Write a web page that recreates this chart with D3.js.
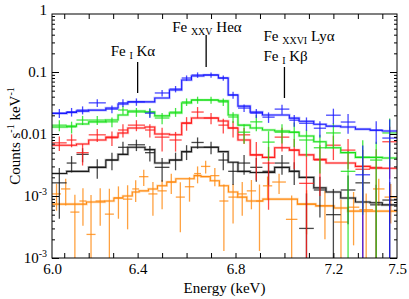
<!DOCTYPE html>
<html>
<head>
<meta charset="utf-8">
<script src="https://cdn.jsdelivr.net/npm/d3@7"></script>
<style>
body { margin: 0; background: #fff; }
svg text { font-family: "Times New Roman", Times, "Liberation Serif", "DejaVu Serif", serif; fill: #000; }
</style>
</head>
<body>
<svg id="chart" width="409" height="299"></svg>
<script>
// bin edges (keV) shared by the blue, green, red and black spectra
var edges = [6.05, 6.11, 6.15, 6.20, 6.27, 6.32, 6.36, 6.43, 6.47, 6.53, 6.58, 6.62, 6.67, 6.73,
             6.77, 6.81, 6.86, 6.91, 6.96, 7.02, 7.06, 7.12, 7.17, 7.23, 7.29, 7.35, 7.40, 7.46];

var blueData  = [0.0218, 0.0227, 0.0243, 0.0318, 0.0252, 0.0318, 0.033, 0.0217, 0.0459, 0.0532, 0.080, 0.0895, 0.0895, 0.080,
                 0.0426, 0.0262, 0.0217, 0.0187, 0.0252, 0.0167, 0.0149, 0.0124, 0.0201, 0.0156, 0.0022, 0.0115, 0.0086];
var blueErr   = [0.0036, 0.0036, 0.0036, 0.0045, 0.0036, 0.0045, 0.0045, 0.0036, 0.0055, 0.0063, 0.008, 0.009, 0.009, 0.008,
                 0.0055, 0.0036, 0.0036, 0.0036, 0.0045, 0.0036, 0.0036, 0.0036, 0.0055, 0.0055, 0.0043, 0.0046, 0.0085];
var blueModel = [0.0214, 0.0223, 0.0234, 0.0243, 0.0262, 0.0305, 0.033, 0.033, 0.0381, 0.0512, 0.0742, 0.086, 0.0895, 0.080,
                 0.0426, 0.0282, 0.0225, 0.0202, 0.0202, 0.018, 0.0161, 0.0144, 0.0134, 0.013, 0.012, 0.0115, 0.0112];

var greenData  = [0.0139, 0.013, 0.0168, 0.0168, 0.0157, 0.0244, 0.0226, 0.0226, 0.0181, 0.0226, 0.0329, 0.0354, 0.0354, 0.0329,
                  0.0188, 0.0107, 0.0157, 0.0074, 0.0107, 0.0107, 0.008, 0.006, 0.0104, 0.0025, 0.0042, 0.0038, 0.0104];
var greenErr   = [0.0028, 0.0028, 0.0028, 0.0028, 0.0028, 0.0037, 0.0037, 0.0037, 0.0037, 0.0037, 0.0046, 0.0046, 0.0046, 0.0046,
                  0.0037, 0.0037, 0.0046, 0.0037, 0.0037, 0.0046, 0.0037, 0.0037, 0.0046, 0.0028, 0.0037, 0.0037, 0.0074];
var greenModel = [0.013, 0.0134, 0.0145, 0.0157, 0.0168, 0.0203, 0.0235, 0.0226, 0.0196, 0.0218, 0.0317, 0.0354, 0.0354, 0.0342,
                  0.0203, 0.0139, 0.0125, 0.0116, 0.0112, 0.0107, 0.0093, 0.0075, 0.006, 0.005, 0.0042, 0.0042, 0.0041];

var redData  = [0.0072, 0.008, 0.005, 0.0097, 0.0087, 0.0116, 0.0139, 0.0116, 0.0089, 0.008, 0.015, 0.0226, 0.0181, 0.0139,
                0.0125, 0.0097, 0.0046, 0.0034, 0.0089, 0.0055, 0.0016, 0.0038, 0.0066, 0.0055, 0.0027, 0.0029, 0.0075];
var redErr   = [0.0019, 0.0019, 0.0019, 0.0023, 0.0023, 0.0028, 0.0028, 0.0028, 0.0037, 0.0028, 0.0037, 0.0046, 0.0037, 0.0037,
                0.0037, 0.0028, 0.0028, 0.0028, 0.0037, 0.0028, 0.0028, 0.0028, 0.0028, 0.0028, 0.0028, 0.0028, 0.0056];
var redModel = [0.0066, 0.0066, 0.0069, 0.008, 0.0089, 0.0104, 0.0125, 0.013, 0.01, 0.0097, 0.015, 0.0181, 0.0181, 0.0162,
                0.0125, 0.008, 0.0046, 0.0042, 0.006, 0.0055, 0.0046, 0.0039, 0.0034, 0.0034, 0.003, 0.0028, 0.0028];

var blackData  = [0.00163, 0.0034, 0.0047, 0.0029, 0.0038, 0.0061, 0.0067, 0.005, 0.0029, 0.0038, 0.0052, 0.0073, 0.0061, 0.0038,
                  0.0025, 0.0034, 0.0029, 0.0025, 0.0034, 0.0025, 0.0003, 0.00125, 0.0005, 0.00125, 0.00163, 0.00072, 0.00086];
var blackErr   = [0.0012, 0.001, 0.0012, 0.001, 0.0012, 0.0014, 0.0014, 0.0014, 0.0012, 0.0012, 0.0014, 0.0015, 0.0014, 0.0012,
                  0.001, 0.0012, 0.0012, 0.001, 0.0012, 0.001, 0.0008, 0.0008, 0.0008, 0.0009, 0.001, 0.0008, 0.0008];
var blackModel = [0.0023, 0.0025, 0.0025, 0.0029, 0.0038, 0.0047, 0.0061, 0.0056, 0.0034, 0.0038, 0.0052, 0.0061, 0.0061, 0.0052,
                  0.0035, 0.0025, 0.0024, 0.0024, 0.0029, 0.0025, 0.002, 0.00135, 0.00116, 0.00093, 0.0008, 0.00078, 0.00072];

// the orange spectrum has its own, finer binning
var orangeEdges = [6.05, 6.087, 6.125, 6.162, 6.191, 6.228, 6.266, 6.303, 6.34, 6.378, 6.406, 6.444, 6.481, 6.519, 6.556,
                   6.593, 6.631, 6.659, 6.697, 6.734, 6.771, 6.809, 6.846, 6.884, 6.912, 6.95, 7.006, 7.053, 7.128,
                   7.203, 7.259, 7.306, 7.362, 7.409, 7.46];
var orangeData  = [0.00108, 0.0013, 0.00055, 0.00083, 0.00024, 0.00083, 0.00051, 0.00093, 0.00089, 0.0013, 0.00205, 0.00108,
                   0.00121, 0.00168, 0.00096, 0.00141, 0.0023, 0.0030, 0.00213, 0.00083, 0.00096, 0.00108, 0.00121, 0.00083,
                   0.00146, 0.00168, 0.00042, 0.00074, 0.0007, 0.00038, 0.00066, 0.0006, 0.0013, 0.00096];
var orangeErr   = [0.0005, 0.0006, 0.0005, 0.0005, 0.0008, 0.0005, 0.0008, 0.0005, 0.0006, 0.0005, 0.0006, 0.0006,
                   0.0006, 0.0006, 0.0007, 0.0006, 0.0007, 0.0007, 0.0007, 0.0007, 0.0006, 0.0006, 0.0006, 0.0007,
                   0.0006, 0.0006, 0.0006, 0.0005, 0.0005, 0.0005, 0.0005, 0.0005, 0.0006, 0.0006];
var orangeModel = [0.00074, 0.00074, 0.00074, 0.00074, 0.0008, 0.0008, 0.00083, 0.00093, 0.001, 0.00116, 0.00121, 0.0013,
                   0.00146, 0.00168, 0.0019, 0.0019, 0.00213, 0.00205, 0.00176, 0.00146, 0.00116, 0.00096, 0.00083, 0.00083,
                   0.00089, 0.00089, 0.00089, 0.00074, 0.00069, 0.00064, 0.00057, 0.00057, 0.00057, 0.00057];

// axis ticks and the labels printed at them (the edges read 6.0 / 7.5, the bottom reads 10^-3, as in the original)
var xTickValues = [6.05, 6.4, 6.8, 7.2, 7.46];
var xTickLabels = ["6.0", "6.4", "6.8", "7.2", "7.5"];
var yTickValues = [1, 0.1, 0.01, 0.001, 0.0001];
var yTickLabels = [["1", ""], ["0.1", ""], ["0.01", ""], ["10", "-3"], ["10", "-3"]];

// line identifications: energy, top and bottom of the marker (counts)
var lineE      = [6.40, 6.68, 7.00];
var lineTop    = [0.145, 0.395, 0.1205];
var lineBottom = [0.0458, 0.1205, 0.0381];

var W = 409, H = 299;
var margin = {top: 14, right: 12, bottom: 41, left: 52};

var svg = d3.select("#chart");

var x = d3.scaleLinear().domain([6.05, 7.46]).range([margin.left, W - margin.right]);
var y = d3.scaleLog().domain([1e-4, 0.862]).range([H - margin.bottom, margin.top]);

svg.append("defs").append("clipPath").attr("id", "clip")
  .append("rect")
    .attr("x", margin.left).attr("y", margin.top)
    .attr("width", W - margin.left - margin.right)
    .attr("height", H - margin.top - margin.bottom);

// spectra, drawn from the bottom one up so blue ends on top
var series = [
  {color: "#ff8a10", edges: orangeEdges, data: orangeData, err: orangeErr, model: orangeModel},
  {color: "#1a1a1a", edges: edges, data: blackData, err: blackErr, model: blackModel},
  {color: "#ff1c1c", edges: edges, data: redData, err: redErr, model: redModel},
  {color: "#18e018", edges: edges, data: greenData, err: greenErr, model: greenModel},
  {color: "#1a1aff", edges: edges, data: blueData, err: blueErr, model: blueModel}
];

var step = d3.line()
  .x(function(d) { return x(d[0]); })
  .y(function(d) { return y(d[1]); })
  .curve(d3.curveStepAfter);

var plot = svg.append("g").attr("clip-path", "url(#clip)");

series.forEach(function(s) {
  var g = plot.append("g");

  var mpts = s.model.map(function(m, i) { return [s.edges[i], m]; });
  mpts.push([s.edges[s.edges.length - 1], s.model[s.model.length - 1]]);

  g.append("path").datum(mpts)
    .attr("d", step).attr("fill", "none")
    .attr("stroke", s.color).attr("stroke-width", 2.6).attr("stroke-opacity", 0.3);
  g.append("path").datum(mpts)
    .attr("d", step).attr("fill", "none")
    .attr("stroke", s.color).attr("stroke-width", 1.1);

  var pts = s.data.map(function(v, i) {
    return {lo: s.edges[i], hi: s.edges[i + 1], v: v, e: s.err[i]};
  });

  g.selectAll(".h").data(pts).enter().append("line")
    .attr("x1", function(d) { return x(d.lo); })
    .attr("x2", function(d) { return x(d.hi); })
    .attr("y1", function(d) { return y(d.v); })
    .attr("y2", function(d) { return y(d.v); })
    .attr("stroke", s.color).attr("stroke-width", 1.3).attr("stroke-opacity", 0.8);

  g.selectAll(".v").data(pts).enter().append("line")
    .attr("x1", function(d) { return x((d.lo + d.hi) / 2); })
    .attr("x2", function(d) { return x((d.lo + d.hi) / 2); })
    .attr("y1", function(d) { return y(d.v + d.e); })
    .attr("y2", function(d) { return d.v - d.e > 1e-4 ? y(d.v - d.e) : y(1e-4); })
    .attr("stroke", s.color).attr("stroke-width", 1.3).attr("stroke-opacity", 0.8);
});

// frame and inward ticks on all four sides
var x0 = margin.left, x1 = W - margin.right, y0 = margin.top, y1 = H - margin.bottom;

function clean(g) { g.select(".domain").remove(); g.selectAll("line").attr("stroke", "#000"); }

svg.append("g").attr("transform", "translate(0," + y1 + ")")
  .call(d3.axisBottom(x).tickValues(x.ticks(15)).tickSize(-5).tickFormat("")).call(clean);
svg.append("g").attr("transform", "translate(0," + y0 + ")")
  .call(d3.axisTop(x).tickValues(x.ticks(15)).tickSize(-5).tickFormat("")).call(clean);

var xLab = svg.append("g").attr("transform", "translate(0," + y1 + ")")
  .call(d3.axisBottom(x).tickValues(xTickValues).tickSize(0).tickPadding(5)
    .tickFormat(function(d, i) { return xTickLabels[i]; }))
  .call(clean);
xLab.attr("font-family", null).attr("font-size", null);
xLab.selectAll("text").style("font-size", "15px");

var yMinor = y.ticks().filter(function(d) { return yTickValues.indexOf(d) < 0; });
var yMajor = yTickValues.filter(function(d) { return d <= y.domain()[1]; });
[[d3.axisLeft, x0], [d3.axisRight, x1]].forEach(function(a) {
  svg.append("g").attr("transform", "translate(" + a[1] + ",0)")
    .call(a[0](y).tickValues(yMinor).tickSize(-3).tickFormat("")).call(clean);
  svg.append("g").attr("transform", "translate(" + a[1] + ",0)")
    .call(a[0](y).tickValues(yMajor).tickSize(-7).tickFormat("")).call(clean);
});

svg.append("rect")
  .attr("x", x0).attr("y", y0).attr("width", x1 - x0).attr("height", y1 - y0)
  .attr("fill", "none").attr("stroke", "#000").attr("stroke-width", 1);

// y tick labels with superscripts
yTickValues.forEach(function(v, i) {
  var t = svg.append("text")
    .attr("x", x0 - 5).attr("y", y(v) + 5)
    .attr("text-anchor", "end").style("font-size", "15px");
  t.append("tspan").text(yTickLabels[i][0]);
  if (yTickLabels[i][1]) {
    t.append("tspan").attr("dy", -6).style("font-size", "10px").text(yTickLabels[i][1]);
  }
});

// axis titles
svg.append("text")
  .attr("x", (x0 + x1) / 2).attr("y", 293)
  .attr("text-anchor", "middle").style("font-size", "15px")
  .text("Energy (keV)");

var yt = svg.append("text")
  .attr("transform", "translate(20," + ((y0 + y1) / 2) + ") rotate(-90)")
  .attr("text-anchor", "middle").style("font-size", "15px");
yt.append("tspan").text("Counts s");
yt.append("tspan").attr("dy", -6).style("font-size", "10px").text("-1");
yt.append("tspan").attr("dy", 6).text(" keV");
yt.append("tspan").attr("dy", -6).style("font-size", "10px").text("-1");

// line markers
lineE.forEach(function(e, i) {
  svg.append("line")
    .attr("x1", x(e)).attr("x2", x(e))
    .attr("y1", y(lineTop[i])).attr("y2", y(lineBottom[i]))
    .attr("stroke", "#000").attr("stroke-width", 1.3);
});

function label(xp, yp, main, sub, rest) {
  var t = svg.append("text").attr("x", xp).attr("y", yp).style("font-size", "15px");
  t.append("tspan").text(main);
  t.append("tspan").attr("dy", 3).style("font-size", "10px").text(sub);
  t.append("tspan").attr("dy", -3).text(rest);
}
label(x(lineE[0]) - 27, 56, "Fe ", "I", " K\u03b1");
label(x(lineE[1]) - 34, 32, "Fe ", "XXV", " He\u03b1");
label(x(lineE[2]) - 21, 41, "Fe ", "XXVI", " Ly\u03b1");
label(x(lineE[2]) - 21, 61, "Fe ", "I", " K\u03b2");
</script>
</body>
</html>
